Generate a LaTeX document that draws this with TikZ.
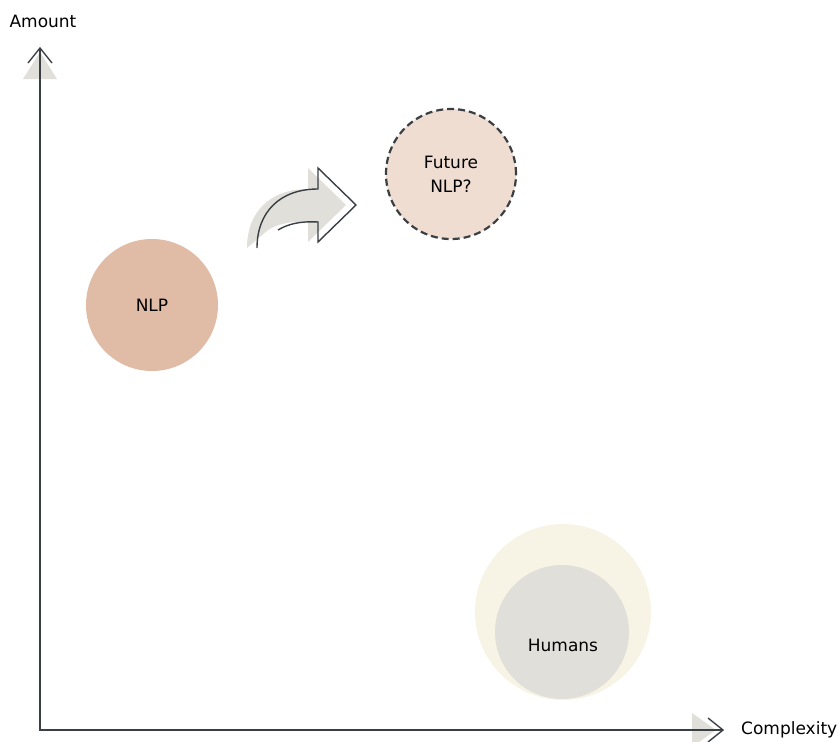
\documentclass[tikz,border=0pt]{standalone}
\usepackage{fontspec}
\setmainfont{DejaVu Sans}
\definecolor{ink}{HTML}{3A3F44}
\definecolor{nlp}{HTML}{E0BBA6}
\definecolor{future}{HTML}{F0DDD2}
\definecolor{humout}{HTML}{F7F3E5}
\definecolor{humin}{HTML}{E0DFDA}
\definecolor{arrowgray}{HTML}{E0DFDA}
\begin{document}
\begin{tikzpicture}[x=1pt,y=-1pt,
  lbl/.style={font=\fontsize{17}{24}\selectfont, text=black, align=center, inner sep=0pt},
  axisline/.style={draw=ink, line width=1.4pt},
  blob/.style={circle, inner sep=0pt}]
\useasboundingbox (0,0) rectangle (839,742);
% axis tips shading
\fill[arrowgray] (40,52) -- (57,79) -- (23,79) -- cycle;
\fill[arrowgray] (692,713) -- (716,730) -- (692,747) -- cycle;
% axes
\coordinate (origin) at (40,730);
\coordinate (ytip) at (40,48);
\coordinate (xtip) at (723,730);
\draw[axisline] (ytip) -- (origin) -- (xtip);
\draw[axisline, line join=miter] (28,63) -- (ytip) -- (52,63);
\draw[axisline, line join=miter] (708,718) -- (xtip) -- (708,742);
\node[lbl] (amount) at (43,21) {Amount};
\node[lbl, anchor=west] (complexity) at (741,730) {Complexity};
% circles
\node[blob, fill=nlp, minimum size=132pt] (nlp) at (152,305) {};
\node[lbl] at (nlp) {NLP};
\node[blob, fill=future, draw=ink, line width=2.2pt, dash pattern=on 7pt off 4pt, minimum size=130pt] (future) at (451,174) {};
\node[lbl] at (future) {Future\\NLP?};
\node[blob, fill=humout, minimum size=176pt] (humout) at (563,612) {};
\node[blob, fill=humin, minimum size=134pt] (humin) at (562,632) {};
\node[lbl] at (563,645) {Humans};
% curved arrow shadow
\fill[arrowgray, shift={(-10,0)}] (257,248) .. controls (257,212) and (280,189) .. (318,189)
  -- (318,168) -- (356,205) -- (318,242) -- (318,222)
  .. controls (300,221) and (288,224) .. (278,230) -- cycle;
% curved arrow outline
\draw[ink, line width=1.4pt, line join=miter] (257,248) .. controls (257,212) and (280,189) .. (318,189)
  -- (318,168) -- (356,205) -- (318,242) -- (318,222)
  .. controls (300,221) and (288,224) .. (278,230);
\end{tikzpicture}
\end{document}
